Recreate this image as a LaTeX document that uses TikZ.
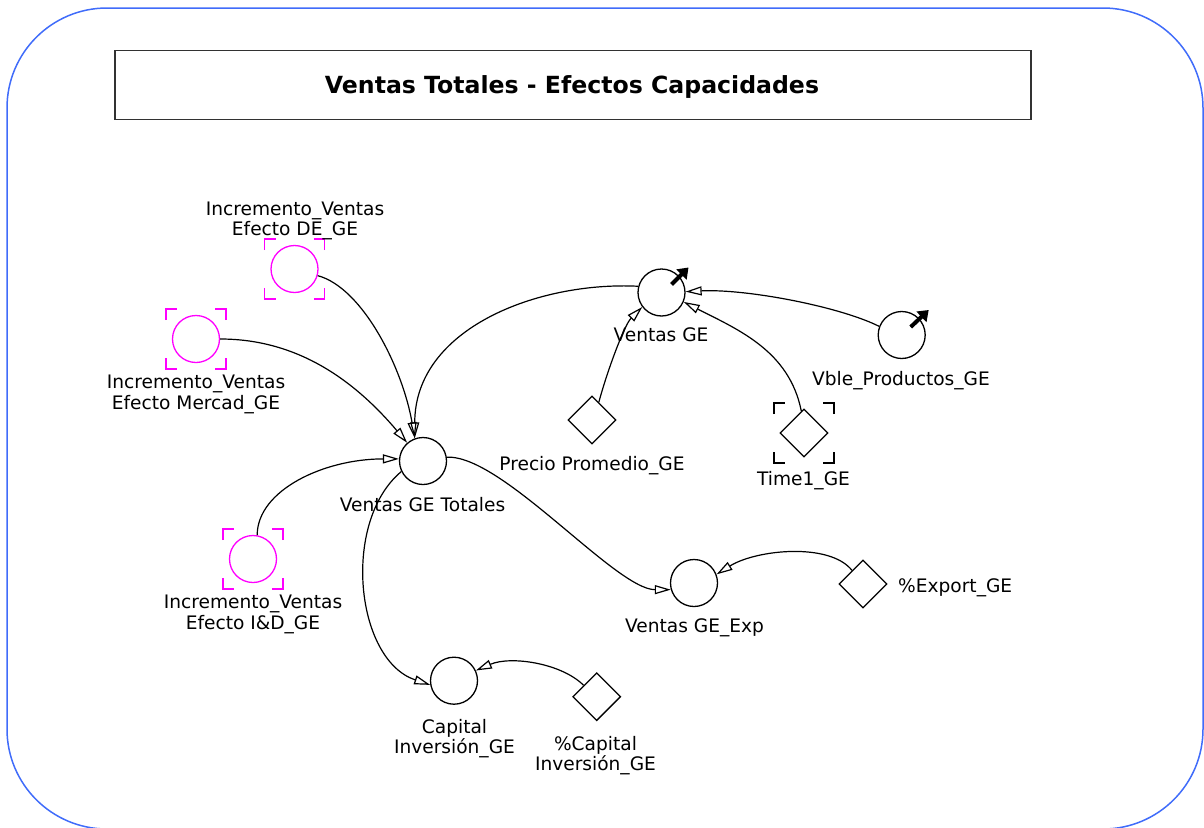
\documentclass[tikz,border=0pt]{standalone}
\usepackage{fontspec}
\setmainfont{DejaVu Sans}
\usetikzlibrary{arrows.meta,shapes.geometric,calc}
\definecolor{frameblue}{RGB}{64,108,250}
\definecolor{shadowmag}{RGB}{255,0,255}
\definecolor{titlegray}{RGB}{50,50,50}

% corner marks around a shadow variable: node name, colour
\newcommand\markcorners[2]{%
  \foreach \sx in {-1,1}{\foreach \sy in {-1,1}{%
    \draw[#2,line width=1.3pt] ($(#1)+(\sx*30,\sy*19)$) -- ($(#1)+(\sx*30,\sy*30)$) -- ($(#1)+(\sx*19,\sy*30)$);
  }}}

\begin{document}
\begin{tikzpicture}[x=1pt,y=-1pt,
  aux/.style={circle,draw,line width=1.3pt,minimum size=47pt,inner sep=0pt},
  shadowaux/.style={aux,draw=shadowmag},
  const/.style={diamond,draw,line width=1.3pt,minimum width=48pt,minimum height=48pt,inner sep=0pt},
  lbl/.style={font=\fontsize{18.6}{20.5}\selectfont,align=center,inner sep=0pt},
  link/.style={line width=1.2pt,-{Triangle[open,length=16pt,width=9pt]}},
  boldarrow/.style={line width=4pt,-{Triangle[length=10pt,width=14pt]}},
]
\useasboundingbox (0,0) rectangle (1204,827);

% outer frame and title box
\draw[frameblue,line width=1.5pt,rounded corners=100pt] (7,8) rectangle (1203,829);
\node[draw=titlegray,line width=1.7pt,minimum width=916pt,minimum height=69pt,inner sep=0pt] (title) at (573,85) {};
\node[font=\fontsize{23.6}{27}\selectfont\bfseries,inner sep=0pt] (titleT) at (572,86.5) {Ventas Totales - Efectos Capacidades};

% variables
\node[shadowaux] (de)  at (294.5,269) {};
\node[shadowaux] (mer) at (196,339) {};
\node[shadowaux] (idg) at (253,559) {};
\node[aux]   (tot)  at (423,461) {};
\node[aux]   (vge)  at (661.5,292.5) {};
\node[aux]   (vbl)  at (901.7,335) {};
\node[const] (pp)   at (592,420) {};
\node[const] (t1)   at (804,433) {};
\node[aux]   (exp)  at (694,583) {};
\node[const] (pexp) at (863,584) {};
\node[aux]   (cap)  at (454,680.7) {};
\node[const] (pcap) at (596.7,696.7) {};

\markcorners{de}{shadowmag}
\markcorners{mer}{shadowmag}
\markcorners{idg}{shadowmag}
\markcorners{t1}{black}

% labels
\node[lbl] (deL)  at (295,221) {Incremento\_Ventas\\Efecto DE\_GE};
\node[lbl] (merL) at (196,394.5) {Incremento\_Ventas\\Efecto Mercad\_GE};
\node[lbl] (idgL) at (253,614.5) {Incremento\_Ventas\\Efecto I\&D\_GE};
\node[lbl,anchor=base] (totL) at (422.5,511) {Ventas GE Totales};
\node[lbl,anchor=base] (vgeL) at (661,341.7) {Ventas GE};
\node[lbl,anchor=base] (vblL) at (901,385) {Vble\_Productos\_GE};
\node[lbl,anchor=base] (ppL)  at (592,470) {Precio Promedio\_GE};
\node[lbl,anchor=base] (t1L)  at (803.5,485) {Time1\_GE};
\node[lbl,anchor=base] (expL) at (694.5,632.7) {Ventas GE\_Exp};
\node[lbl,anchor=base west] (pexpL) at (898,592.7) {\%Export\_GE};
\node[lbl] (capL)  at (454.5,738.5) {Capital\\Inversión\_GE};
\node[lbl] (pcapL) at (595.5,755.5) {\%Capital\\Inversión\_GE};

% data-driven input markers
\coordinate (vgeA) at ($(vge)+(10,-8)$);
\coordinate (vgeB) at ($(vge)+(27,-25)$);
\coordinate (vblA) at ($(vbl)+(9,-8)$);
\coordinate (vblB) at ($(vbl)+(27,-25)$);
\draw[boldarrow] (vgeA) -- (vgeB);
\draw[boldarrow] (vblA) -- (vblB);

% causal links
\draw[link] (de.-16) .. controls +(45,12) and +(-12,-70) .. (tot.110);
\draw[link] (mer.0) .. controls +(75,0) and +(-55,-65) .. (tot.131);
\draw[link] (idg.80) .. controls +(0,-45) and +(-75,0) .. (tot.175);
\draw[link] (vge.165) .. controls +(-100,-5) and +(0,-110) .. (tot.110);
\draw[link] (pp.69) .. controls +(8,-30) and +(-18,18) .. (vge.217);
\draw[link] (t1.97) .. controls +(-12,-60) and +(55,28) .. (vge.-23);
\draw[link] (vbl.159) .. controls +(-40,-20) and +(60,-3) .. (vge.2);
\draw[link] (tot.9) .. controls +(55,-3) and +(-55,0) .. (exp.196);
\draw[link] (pexp.129) .. controls +(-22,-28) and +(40,-25) .. (exp.21);
\draw[link] (tot.206) .. controls +(-60,50) and +(-75,-25) .. (cap.190);
\draw[link] (pcap.139) .. controls +(-22,-22) and +(35,-15) .. (cap.25);
\end{tikzpicture}
\end{document}
